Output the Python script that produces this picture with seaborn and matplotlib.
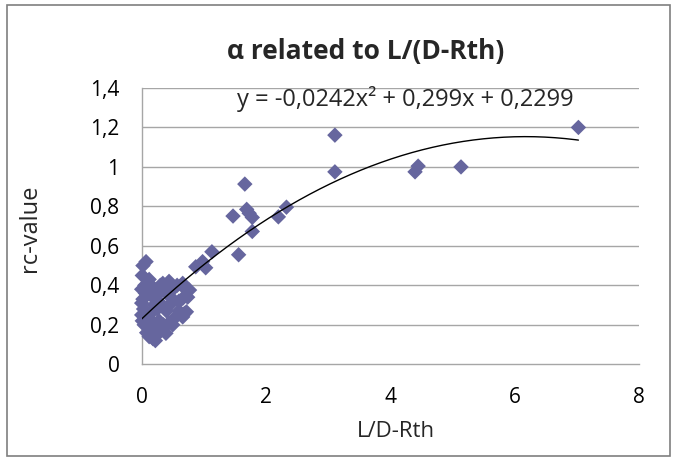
import matplotlib
matplotlib.use("Agg")
import matplotlib.pyplot as plt
import seaborn as sns
import numpy as np
import pandas as pd
from matplotlib.patches import Rectangle
from matplotlib.ticker import FuncFormatter

# Data
x_vals = [0.02, 0.07, 0.01, 0.12, 0.05, 0.00, 0.02, 0.00, 0.03, 0.00, 0.01, 0.04,
          0.06, 0.10, 0.15, 0.20, 0.25, 0.30, 0.34, 0.44, 0.50, 0.57, 0.66, 0.72,
          0.74, 0.66, 0.60, 0.50, 0.45, 0.40, 0.35, 0.30, 0.25, 0.20, 0.15, 0.10,
          0.12, 0.08, 0.12, 0.18, 0.22, 0.25, 0.30, 0.20, 0.28, 0.35, 0.39, 0.44,
          0.50, 0.55, 0.60, 0.69, 0.66, 0.72, 0.16, 0.06, 0.18, 0.40, 0.77,
          0.87, 0.98, 1.03, 1.13, 1.56, 1.47, 1.66, 1.69, 1.73, 1.78, 1.78,
          2.20, 2.33, 3.11, 3.11, 4.40, 4.45, 5.14, 7.03]
y_vals = [0.50, 0.52, 0.45, 0.43, 0.40, 0.38, 0.33, 0.31, 0.28, 0.25, 0.22, 0.20,
          0.36, 0.38, 0.40, 0.37, 0.35, 0.40, 0.41, 0.42, 0.38, 0.40, 0.41, 0.376,
          0.34, 0.334, 0.32, 0.33, 0.30, 0.27, 0.29, 0.31, 0.28, 0.30, 0.26, 0.24,
          0.18, 0.16, 0.14, 0.13, 0.12, 0.15, 0.18, 0.20, 0.22, 0.20, 0.157, 0.21,
          0.20, 0.24, 0.27, 0.258, 0.24, 0.266, 0.22, 0.26, 0.34, 0.36, 0.376,
          0.494, 0.52, 0.489, 0.57, 0.555, 0.751, 0.913, 0.785, 0.765, 0.744, 0.673,
          0.747, 0.796, 1.161, 0.975, 0.975, 1.004, 1.0, 1.20]
trend_coef = [-0.0242, 0.299, 0.2299]
x_ticks = [0, 2, 4, 6, 8]
y_ticks = [0, 0.2, 0.4, 0.6, 0.8, 1.0, 1.2, 1.4]
title = "α related to L/(D-Rth)"
equation = "y = -0,0242x² + 0,299x + 0,2299"

df = pd.DataFrame({"x": x_vals, "y": y_vals})

sns.set_style("white")
plt.rcParams['font.family'] = ['Open Sans', 'DejaVu Sans']

fig = plt.figure(figsize=(6.78, 4.63), dpi=100)
ax = fig.add_axes([0.209, 0.2132, 0.733, 0.5968])

grid_c = "#A6A6A6"
for yt in y_ticks[1:]:
    ax.axhline(yt, color=grid_c, lw=1.0, zorder=0)

sns.scatterplot(data=df, x="x", y="y", ax=ax, marker="D", s=62,
                color="#66669E", edgecolor="none", linewidth=0, zorder=3,
                clip_on=False)

xs = np.linspace(min(x_vals), max(x_vals), 300)
ys = np.polyval(trend_coef, xs)
ax.plot(xs, ys, color="black", lw=1.0, zorder=4)

ax.set_xlim(0, 8)
ax.set_ylim(0, 1.4)
ax.set_xticks(x_ticks)
ax.set_yticks(y_ticks)
fmt = FuncFormatter(lambda v, p: (f"{v:.1f}".rstrip('0').rstrip('.') if v != 0 else "0").replace('.', ','))
ax.yaxis.set_major_formatter(fmt)
ax.xaxis.set_major_formatter(FuncFormatter(lambda v, p: f"{int(v)}"))

for s in ["top", "right"]:
    ax.spines[s].set_visible(False)
for s in ["left", "bottom"]:
    ax.spines[s].set_color(grid_c)
    ax.spines[s].set_linewidth(1.0)
    ax.spines[s].set_zorder(1)

ax.tick_params(axis="both", which="major", direction="out", length=5,
               color=grid_c, labelsize=15, labelcolor="black")
ax.tick_params(axis="x", pad=11)
ax.tick_params(axis="y", pad=11)

ax.set_xlabel("L/D-Rth", fontsize=16)
ax.set_ylabel("rc-value", fontsize=17)
ax.xaxis.set_label_coords(0.512, -0.245)
ax.yaxis.set_label_coords(-0.225, 0.493)
ax.xaxis.label.set_va("center")
ax.yaxis.label.set_va("center")

fig.text(366 / 678, 1 - 52 / 463, title, ha="center", va="center",
         fontsize=19, fontweight="bold")
ax.text(1.53, 1.345, equation, fontsize=17, ha="left", va="center")

fig.patches.append(Rectangle((7 / 678, 1 - 456 / 463), 663 / 678, 451 / 463,
                             transform=fig.transFigure, fill=False,
                             edgecolor="#7F7F7F", lw=1.2))

fig.savefig("out.png", dpi=100)
